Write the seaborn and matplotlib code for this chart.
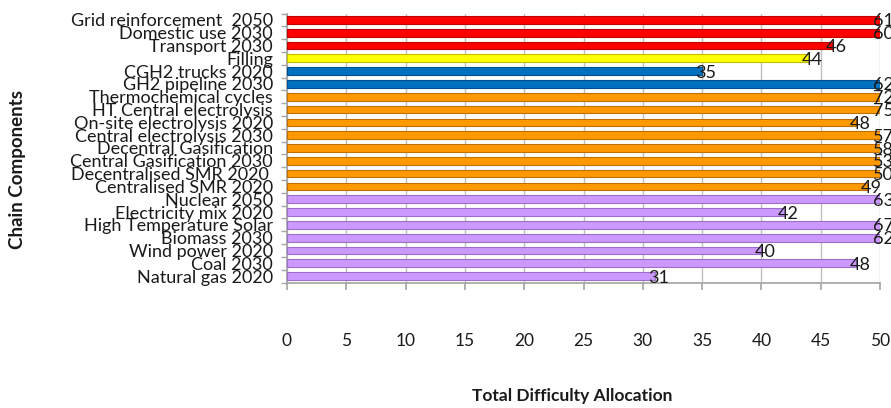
import matplotlib
matplotlib.use("Agg")
import matplotlib.pyplot as plt
import seaborn as sns
import pandas as pd
import numpy as np

# Chain components, listed top to bottom
components = [
    "Grid reinforcement  2050", "Domestic use 2030", "Transport 2030", "Filling",
    "CGH2 trucks 2020", "GH2 pipeline 2030", "Thermochemical cycles",
    "HT Central electrolysis", "On-site electrolysis 2020", "Central electrolysis 2030",
    "Decentral Gasification", "Central Gasification 2030", "Decentralised SMR 2020 ",
    "Centralised SMR 2020", "Nuclear 2050", "Electricity mix 2020",
    "High Temperature Solar", "Biomass 2030", "Wind power 2020", "Coal 2030",
    "Natural gas 2020",
]
difficulty = [61, 60, 46, 44, 35, 62, 72, 75, 48, 57, 58, 53, 50, 49,
              63, 42, 67, 62, 40, 48, 31]
stage = ["Use", "Use", "Use", "Filling", "Distribution", "Distribution",
         "Production", "Production", "Production", "Production", "Production",
         "Production", "Production", "Production", "Source", "Source", "Source",
         "Source", "Source", "Source", "Source"]
stage_colors = {"Use": "#FF0000", "Filling": "#FFFF00", "Distribution": "#0070C0",
                "Production": "#FF9900", "Source": "#CC99FF"}
stage_edges = {"Use": "#C00000", "Filling": "#BFBF00", "Distribution": "#00508F",
               "Production": "#C07000", "Source": "#9A70C8"}
x_ticks = [0, 5, 10, 15, 20, 25, 30, 35, 40, 45, 50]

df = pd.DataFrame({"component": components, "difficulty": difficulty, "stage": stage})

sns.set_theme(style="white")
plt.rcParams["font.family"] = ["Lato", "DejaVu Sans"]

fig = plt.figure(figsize=(8.91, 4.08), dpi=100)
ax = fig.add_axes([287 / 891, 1 - 282.5 / 408, (880 - 287) / 891, (282.5 - 13.5) / 408])

sns.barplot(data=df, x="difficulty", y="component", hue="stage",
            palette=stage_colors, saturation=1, dodge=False, width=0.6,
            legend=False, order=components, ax=ax, zorder=3)

# darker outline per bar, by supply-chain stage
for patch in ax.patches:
    y_center = patch.get_y() + patch.get_height() / 2
    idx = int(round(y_center))
    if 0 <= idx < len(components):
        patch.set_edgecolor(stage_edges[stage[idx]])
        patch.set_linewidth(0.8)

ax.set_xlim(0, 50)
ax.set_ylim(len(components) - 0.5, -0.5)
ax.set_xticks(x_ticks)
ax.set_xticklabels([str(t) for t in x_ticks])

ax.grid(axis="x", color="#BFBFBF", linewidth=1.0, zorder=0)
for side in ["top", "right"]:
    ax.spines[side].set_visible(False)
ax.spines["left"].set_color("#A6A6A6")
ax.spines["bottom"].set_color("#A6A6A6")

ax.tick_params(axis="x", length=5, color="#A6A6A6", direction="out",
               pad=31, labelsize=12.5, labelcolor="#1A1A1A", bottom=True)
ax.tick_params(axis="y", which="major", length=0, pad=10,
               labelsize=13, labelcolor="#1A1A1A")
ax.set_yticks(np.arange(-0.5, len(components), 1), minor=True)
ax.tick_params(axis="y", which="minor", length=4, color="#A6A6A6", left=True)

ax.set_xlabel("")
ax.set_ylabel("")

# value labels at the end of each bar (clipped to the axis maximum)
for i, v in enumerate(difficulty):
    xpos = min(v, 50)
    ax.text(xpos + 0.3, i + 0.12, str(v), ha="center", va="center",
            fontsize=13, color="#1A1A1A", clip_on=False, zorder=5)

fig.text(18 / 891, 1 - 169 / 408, "Chain Components", rotation=90,
         ha="center", va="center", fontsize=13.5, fontweight="bold", color="#1A1A1A")
fig.text(572 / 891, 1 - 396 / 408, "Total Difficulty Allocation",
         ha="center", va="center", fontsize=12.5, fontweight="bold", color="#1A1A1A")

fig.savefig("out.png", dpi=100)
